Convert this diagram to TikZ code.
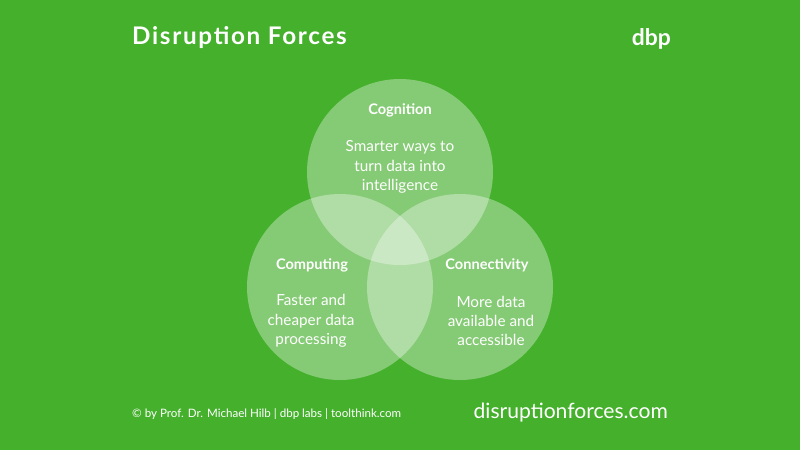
\documentclass[tikz,border=0pt]{standalone}
\usepackage{fontspec}
\setmainfont{Lato}
\definecolor{bg}{HTML}{44B02C}
\begin{document}
\begin{tikzpicture}[x=0.02cm,y=-0.02cm,
  circ/.style={circle,fill=white,fill opacity=0.35,minimum size=186*0.02cm,inner sep=0},
  txt/.style={text=white,align=center,font=\fontsize{8.7pt}{11pt}\selectfont},
  hd/.style={text=white,font=\fontsize{8.3pt}{10pt}\selectfont\bfseries}]
\fill[bg] (0,0) rectangle (800,450);
\useasboundingbox (0,0) rectangle (800,450);
\node[circ] (ctop) at (400,172) {};
\node[circ] (cleft) at (340,287) {};
\node[circ] (cright) at (460,287) {};
\node[hd] (h1) at (400,110) {Cognition};
\node[txt] (t1) at (400,167) {Smarter ways to\\turn data into\\intelligence};
\node[hd] (h2) at (312,265) {Computing};
\node[txt] (t2) at (311,321) {Faster and\\cheaper data\\processing};
\node[hd] (h3) at (487,265) {Connectivity};
\node[txt] (t3) at (491,321) {More data\\available and\\accessible};
\node[anchor=west,text=white,font=\fontsize{13.8pt}{15pt}\selectfont\bfseries\addfontfeature{LetterSpace=7}] (title) at (126,38) {Disruption Forces};
\node[anchor=east,text=white,font=\fontsize{13pt}{14pt}\selectfont\bfseries] (logo) at (677,39) {dbp};
\node[anchor=west,text=white,font=\fontsize{6.6pt}{8pt}\selectfont] (foot) at (126,414) {© by Prof. Dr. Michael Hilb | dbp labs | toolthink.com};
\node[anchor=east,text=white,font=\fontsize{12pt}{14pt}\selectfont] (url) at (674,413) {disruptionforces.com};
\end{tikzpicture}
\end{document}
